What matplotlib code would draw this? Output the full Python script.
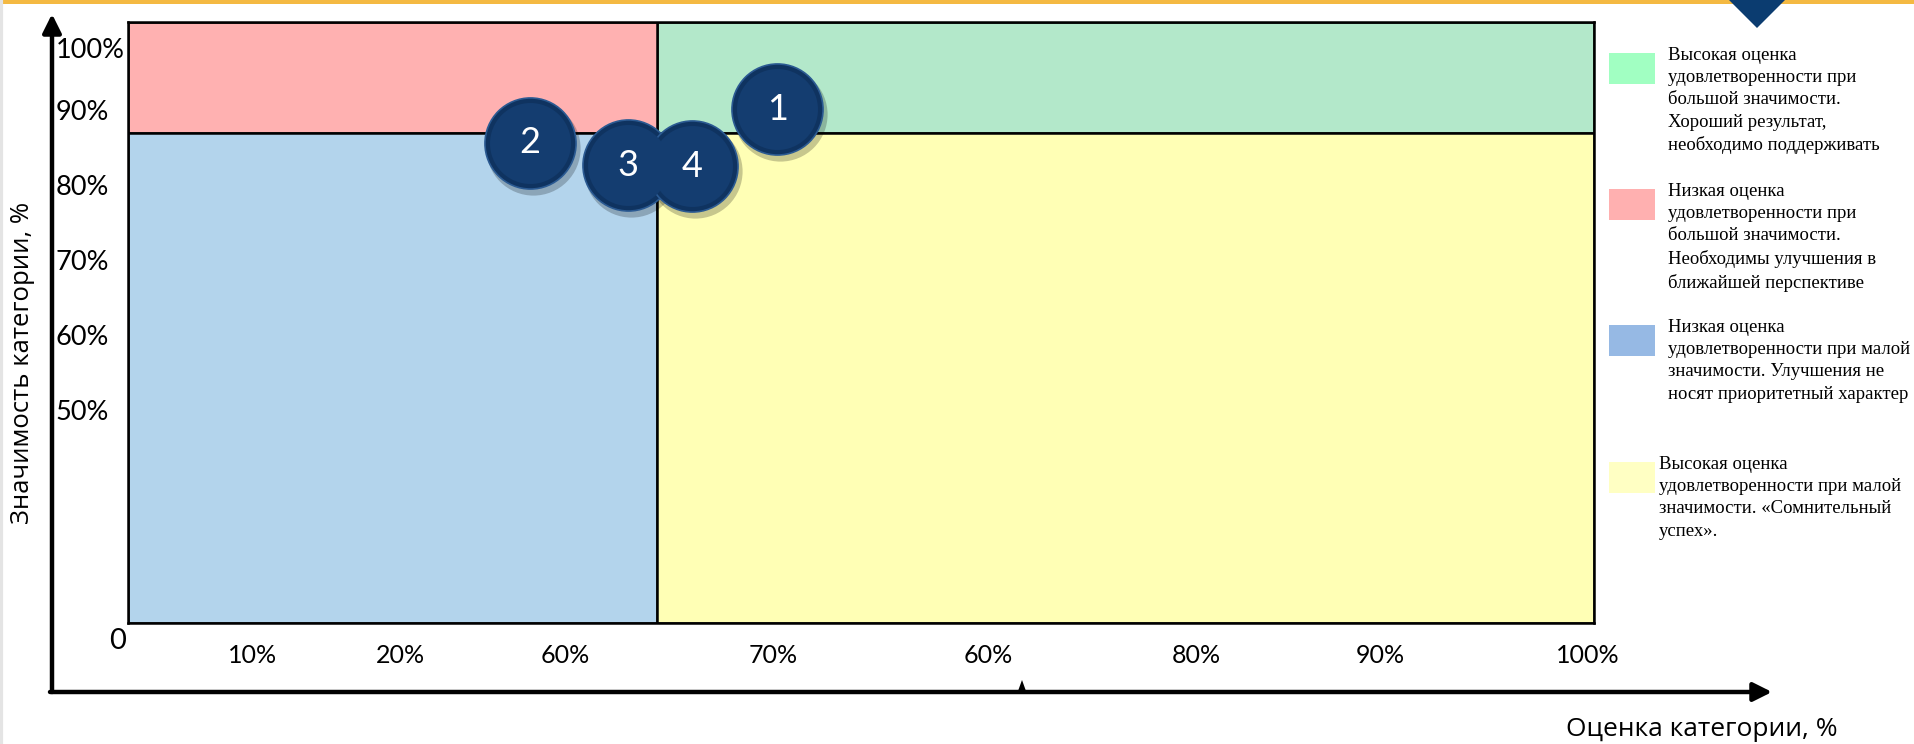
import matplotlib
matplotlib.use('Agg')
import matplotlib.pyplot as plt
from matplotlib.patches import Rectangle, Polygon
from matplotlib import transforms

# quadrant borders (score %, importance %)
x_split = 36.1
y_split = 81.6

# circles: category numbers and their position
cat_names = ['1', '2', '3', '4']
cat_x = [44.3, 27.4, 34.1, 38.5]
cat_y = [85.5, 79.9, 76.2, 76.0]

# tick labels as they stand on the slide
xtick_pos = [8.5, 18.6, 29.8, 44.0, 58.7, 72.9, 85.4, 99.6]
xtick_lab = ['10%', '20%', '60%', '70%', '60%', '80%', '90%', '100%']
ytick_pos = [95.7, 85.4, 72.9, 60.4, 47.9, 35.4]
ytick_lab = ['100%', '90%', '80%', '70%', '60%', '50%']

quad_colors = {'green': '#B3E8CA', 'red': '#FFB1B1', 'blue': '#B3D4EC', 'yellow': '#FFFFB5'}

legend_colors = ['#A1FFC2', '#FFB0B0', '#96B9E4', '#FFFFC3']
legend_texts = [
    'Высокая оценка\nудовлетворенности при\nбольшой значимости.\nХороший результат,\nнеобходимо поддерживать',
    'Низкая оценка\nудовлетворенности при\nбольшой значимости.\nНеобходимы улучшения в\nближайшей перспективе',
    'Низкая оценка\nудовлетворенности при малой\nзначимости. Улучшения не\nносят приоритетный характер',
    'Высокая оценка\nудовлетворенности при малой\nзначимости. «Сомнительный\nуспех».',
]

W, H = 1915, 744
fig = plt.figure(figsize=(W / 100, H / 100), dpi=100)

# background layer in pixel coords: arrows, slide decoration, legend
bg = fig.add_axes([0, 0, 1, 1])
bg.set_xlim(0, W)
bg.set_ylim(H, 0)
bg.axis('off')

bg.plot([1.5, 1.5], [0, H], color='#e4e4e4', lw=3)
bg.add_patch(Rectangle((0, 0), W, 3.5, color='#F4B942', lw=0))
bg.add_patch(Polygon([(1729, 0), (1785, 0), (1757, 28)], closed=True, color='#0B3C70', lw=0))

arrow = dict(arrowstyle='-|>', lw=3.2, color='black', mutation_scale=28, shrinkA=0, shrinkB=0)
bg.annotate('', xy=(52, 14), xytext=(52, 692), arrowprops=arrow)
bg.annotate('', xy=(1772, 692), xytext=(50, 692), arrowprops=arrow)
bg.add_patch(Polygon([(1018, 691), (1026, 691), (1022, 680)], closed=True, color='black', lw=0))

bg.text(23, 363, 'Значимость категории, %', rotation=90, ha='center', va='center',
        fontsize=18.5, family='Open Sans')
bg.text(1702, 729, 'Оценка категории, %', ha='center', va='center',
        fontsize=19, family='Open Sans')
bg.text(118, 641, '0', ha='center', va='center', fontsize=21, family='Lato')

sw_top = [53, 189, 325, 462]
txt_x = [1668, 1668, 1668, 1659]
for c, t, top, tx in zip(legend_colors, legend_texts, sw_top, txt_x):
    bg.add_patch(Rectangle((1609, top), 46, 31, color=c, lw=0))
    bg.text(tx, top - 6, t, ha='left', va='top', fontsize=13.5,
            family='Liberation Serif', linespacing=1.4)

# main quadrant chart
ax = fig.add_axes([128 / W, (H - 623) / H, (1594 - 128) / W, (623 - 22) / H])
ax.set_xlim(0, 100)
ax.set_ylim(0, 100)

quads = [
    (x_split, y_split, 100 - x_split, 100 - y_split, quad_colors['green']),
    (0, y_split, x_split, 100 - y_split, quad_colors['red']),
    (0, 0, x_split, y_split, quad_colors['blue']),
    (x_split, 0, 100 - x_split, y_split, quad_colors['yellow']),
]
for x0, y0, w, h, c in quads:
    ax.add_patch(Rectangle((x0, y0), w, h, facecolor=c, edgecolor='black', lw=1.8, zorder=1))

shadow = transforms.offset_copy(ax.transData, fig=fig, x=3, y=-5, units='dots')
ax.scatter(cat_x, cat_y, s=4600, color='black', alpha=0.22, lw=0, transform=shadow, zorder=3)
ax.scatter(cat_x, cat_y, s=4300, color='#0f3360', edgecolors='#2b5a92', linewidths=1.2, zorder=4)
ax.scatter(cat_x, cat_y, s=3400, color='#143d70', lw=0, zorder=5)
for n, x, y in zip(cat_names, cat_x, cat_y):
    ax.text(x, y, n, color='white', ha='center', va='center', fontsize=26,
            family='Lato', zorder=6)

ax.set_xticks(xtick_pos)
ax.set_xticklabels(xtick_lab, fontsize=18, family='Lato')
ax.set_yticks(ytick_pos)
ax.set_yticklabels(ytick_lab, fontsize=19.5, family='Lato')
ax.tick_params(axis='x', length=0, pad=15)
ax.tick_params(axis='y', length=0, pad=52)
for lab in ax.get_yticklabels():
    lab.set_horizontalalignment('left')
for s in ax.spines.values():
    s.set_linewidth(1.8)

fig.savefig('out.png', dpi=100)
